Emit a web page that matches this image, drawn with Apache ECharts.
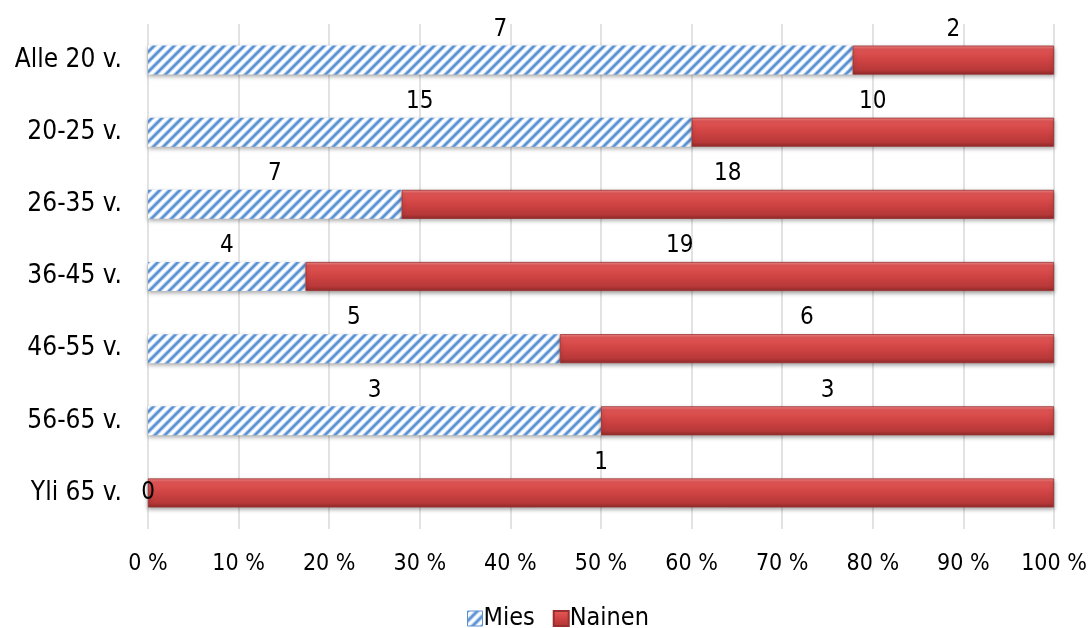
<!DOCTYPE html>
<html>
<head>
<meta charset="utf-8">
<script src="https://cdn.jsdelivr.net/npm/echarts@6/dist/echarts.min.js"></script>
<style>
  html, body { margin: 0; padding: 0; background: #fff; }
  #chart { width: 1090px; height: 628px; }
</style>
</head>
<body>
<div id="chart"></div>
<script>
// Age groups, top to bottom
const categories = ['Alle 20 v.', '20-25 v.', '26-35 v.', '36-45 v.', '46-55 v.', '56-65 v.', 'Yli 65 v.'];
// Head counts per group
const mies = [7, 15, 7, 4, 5, 3, 0];
const nainen = [2, 10, 18, 19, 6, 3, 1];
// Axis tick labels (percent of group)
const xTicks = [0, 10, 20, 30, 40, 50, 60, 70, 80, 90, 100];

const FONT = "'DejaVu Sans Condensed', 'DejaVu Sans', sans-serif";

// Diagonal blue hatch used for the "Mies" bars
function hatchPattern() {
  const s = 10;
  const c = document.createElement('canvas');
  c.width = s; c.height = s;
  const g = c.getContext('2d');
  g.fillStyle = '#ffffff';
  g.fillRect(0, 0, s, s);
  const strokes = [
    { w: 4.2, col: 'rgba(160,198,240,0.85)' },
    { w: 2.2, col: '#5a8fd0' }
  ];
  strokes.forEach(st => {
    g.strokeStyle = st.col;
    g.lineWidth = st.w;
    g.beginPath();
    for (let k = -1; k <= 1; k++) {
      g.moveTo(k * s - 1, s + 1);
      g.lineTo(k * s + s + 1, -1);
    }
    g.stroke();
  });
  return { image: c, repeat: 'repeat' };
}

const redFill = new echarts.graphic.LinearGradient(0, 0, 0, 1, [
  { offset: 0, color: '#f28d8d' },
  { offset: 0.12, color: '#e25555' },
  { offset: 0.5, color: '#cf4343' },
  { offset: 0.85, color: '#b73838' },
  { offset: 1, color: '#8e2a2a' }
]);
const hatch = hatchPattern();

const totals = categories.map((_, i) => mies[i] + nainen[i]);
function shares(counts) {
  return counts.map((v, i) => ({
    value: totals[i] ? v / totals[i] * 100 : 0,
    count: v,
    label: v === 0 ? { position: 'inside' } : undefined
  }));
}

const labelStyle = {
  show: true,
  position: 'top',
  distance: 4,
  color: '#000',
  fontFamily: FONT,
  fontSize: 24,
  formatter: p => String(p.data.count)
};

const chart = echarts.init(document.getElementById('chart'), null, { renderer: 'canvas' });
chart.setOption({
  animation: false,
  backgroundColor: '#ffffff',
  grid: { left: 148, right: 36, top: 24, bottom: 99, containLabel: false },
  legend: {
    left: 462,
    top: 601,
    itemWidth: 15,
    itemHeight: 15,
    itemGap: 18,
    textStyle: { fontFamily: FONT, fontSize: 25, color: '#000', padding: [0, 0, 0, -4] },
    data: [
      { name: 'Mies', icon: 'rect', itemStyle: { color: hatch, borderColor: '#5b8fd2', borderWidth: 1 } },
      { name: 'Nainen', icon: 'rect', itemStyle: { color: redFill } }
    ]
  },
  xAxis: {
    type: 'value',
    min: 0,
    max: 100,
    interval: 10,
    axisLine: { show: false },
    axisTick: { show: false },
    splitLine: { show: true, lineStyle: { color: '#d9d9d9', width: 1.5 } },
    axisLabel: {
      margin: 24,
      color: '#000',
      fontFamily: FONT,
      fontSize: 23,
      formatter: v => (xTicks.indexOf(v) >= 0 ? v + ' %' : '')
    }
  },
  yAxis: {
    type: 'category',
    inverse: true,
    data: categories,
    axisLine: { show: false },
    axisTick: { show: false },
    axisLabel: { margin: 26, color: '#000', fontFamily: FONT, fontSize: 26 }
  },
  series: [
    {
      name: 'Mies',
      type: 'bar',
      stack: 'all',
      barWidth: 29,
      data: shares(mies),
      itemStyle: {
        color: hatch,
        shadowColor: 'rgba(0,0,0,0.35)',
        shadowBlur: 4,
        shadowOffsetY: 2
      },
      label: labelStyle
    },
    {
      name: 'Nainen',
      type: 'bar',
      stack: 'all',
      barWidth: 29,
      data: shares(nainen),
      itemStyle: {
        color: redFill,
        borderColor: '#9a2f2f',
        borderWidth: 0.8,
        shadowColor: 'rgba(0,0,0,0.35)',
        shadowBlur: 4,
        shadowOffsetY: 2
      },
      label: labelStyle
    }
  ]
});
</script>
</body>
</html>
